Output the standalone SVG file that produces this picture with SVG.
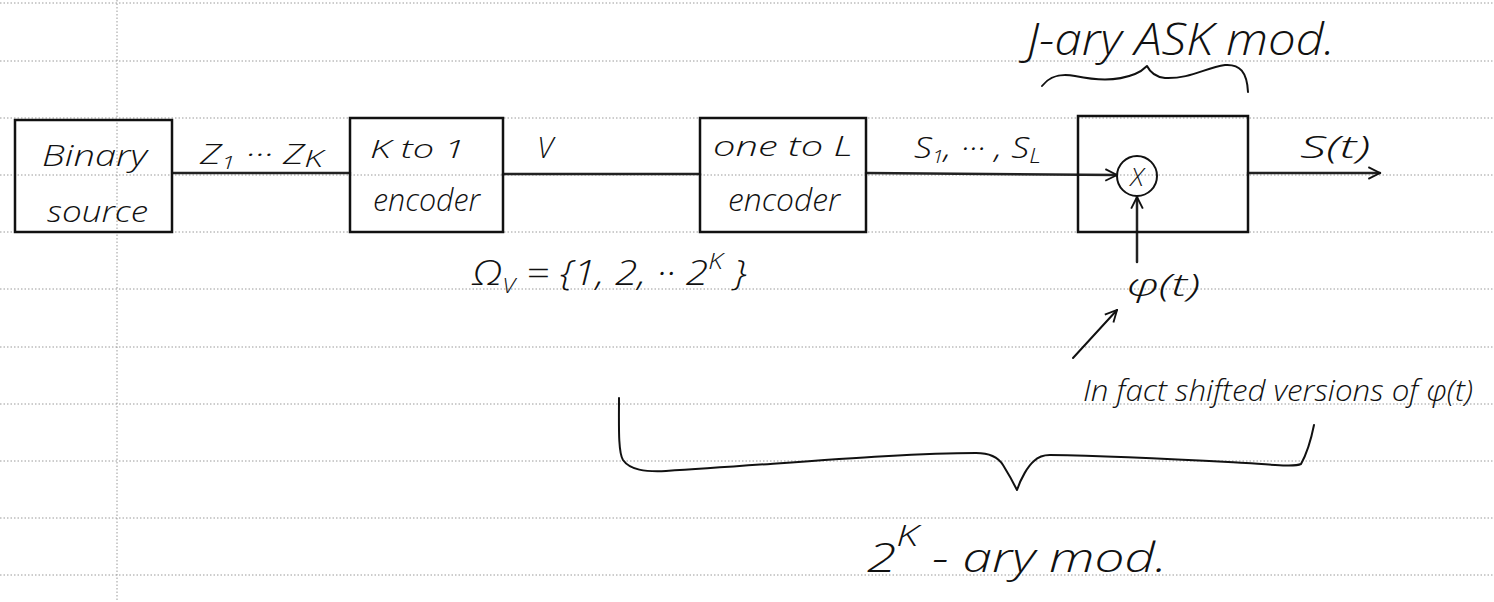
<svg xmlns="http://www.w3.org/2000/svg" width="1494" height="602" viewBox="0 0 1494 602">
<defs>
<style>
.rule{stroke:#9a9a9a;stroke-width:1;stroke-dasharray:1.5 2;fill:none}
.box{fill:none;stroke:#111;stroke-width:2.5}
.wire{fill:none;stroke:#222;stroke-width:2.5;stroke-linecap:round}
.pen{fill:none;stroke:#111;stroke-width:2;stroke-linecap:round;stroke-linejoin:round}
.hw{font-family:"Open Sans","DejaVu Sans",sans-serif;font-weight:300;font-style:italic;fill:#111}
</style>
<marker id="arr" viewBox="0 0 12 12" refX="11" refY="6" markerWidth="14" markerHeight="14" markerUnits="userSpaceOnUse" orient="auto">
<path d="M1,1 L11,6 L1,11" fill="none" stroke="#111" stroke-width="1.6"/>
</marker>
</defs>
<rect width="1494" height="602" fill="#fff"/>
<g id="paper">
<line class="rule" x1="0" y1="3" x2="1494" y2="3"/>
<line class="rule" x1="0" y1="61" x2="1494" y2="61"/>
<line class="rule" x1="0" y1="118" x2="1494" y2="118"/>
<line class="rule" x1="0" y1="175" x2="1494" y2="175"/>
<line class="rule" x1="0" y1="232" x2="1494" y2="232"/>
<line class="rule" x1="0" y1="289" x2="1494" y2="289"/>
<line class="rule" x1="0" y1="347" x2="1494" y2="347"/>
<line class="rule" x1="0" y1="404" x2="1494" y2="404"/>
<line class="rule" x1="0" y1="461" x2="1494" y2="461"/>
<line class="rule" x1="0" y1="518" x2="1494" y2="518"/>
<line class="rule" x1="0" y1="575" x2="1494" y2="575"/>
<line class="rule" x1="117" y1="0" x2="117" y2="602"/>
</g>
<g id="connectors">
<line class="wire" x1="173" y1="173" x2="350" y2="173"/>
<line class="wire" x1="503" y1="174" x2="700" y2="174"/>
<path class="wire" d="M866,173 L1117,175" marker-end="url(#arr)"/>
<path class="wire" d="M1248,173 L1380,173" marker-end="url(#arr)"/>
<path class="wire" d="M1137,262 L1137,197" marker-end="url(#arr)"/>
<path class="pen" d="M1073,358 L1117,310" marker-end="url(#arr)"/>
</g>
<g id="binary-source">
<rect class="box" x="15" y="120" width="157" height="112"/>
<text class="hw" x="42" y="166" font-size="30" textLength="105" lengthAdjust="spacingAndGlyphs">Binary</text>
<text class="hw" x="47" y="222" font-size="30" textLength="101" lengthAdjust="spacingAndGlyphs">source</text>
</g>
<g id="label-z">
<text class="hw" x="200" y="164" font-size="28" textLength="123" lengthAdjust="spacingAndGlyphs">Z<tspan font-size="18" dy="5">1</tspan><tspan dy="-5"> ··· Z</tspan><tspan font-size="24" dy="3">K</tspan></text>
</g>
<g id="k-to-1-encoder">
<rect class="box" x="350" y="118" width="153" height="114"/>
<text class="hw" x="370" y="158" font-size="26" textLength="95" lengthAdjust="spacingAndGlyphs">K to 1</text>
<text class="hw" x="373" y="211" font-size="32" textLength="107" lengthAdjust="spacingAndGlyphs">encoder</text>
</g>
<g id="label-v">
<text class="hw" x="537" y="158" font-size="30">V</text>
</g>
<g id="one-to-l-encoder">
<rect class="box" x="700" y="118" width="166" height="114"/>
<text class="hw" x="713" y="156" font-size="28" textLength="140" lengthAdjust="spacingAndGlyphs">one to L</text>
<text class="hw" x="728" y="211" font-size="32" textLength="112" lengthAdjust="spacingAndGlyphs">encoder</text>
</g>
<g id="label-s">
<text class="hw" x="914" y="158" font-size="30" textLength="127" lengthAdjust="spacingAndGlyphs">S<tspan font-size="18" dy="5">1</tspan><tspan dy="-5">, ··· , S</tspan><tspan font-size="20" dy="5">L</tspan></text>
</g>
<g id="ask-modulator">
<rect class="box" x="1078" y="116" width="170" height="116"/>
<circle class="pen" cx="1137" cy="176" r="20"/>
<text class="hw" x="1137" y="186" font-size="26" text-anchor="middle">X</text>
</g>
<g id="label-st">
<text class="hw" x="1300" y="158" font-size="32" textLength="70" lengthAdjust="spacingAndGlyphs">S(t)</text>
</g>
<g id="label-jary">
<text class="hw" x="1027" y="55" font-size="44" textLength="308" lengthAdjust="spacingAndGlyphs">J-ary ASK mod.</text>
<path class="pen" d="M1042,86 C1050,76 1060,73 1075,76 C1095,80 1115,82 1135,74 C1140,72 1144,69 1147,66 C1150,72 1155,77 1165,78 C1190,79 1205,68 1225,65 C1240,64 1247,72 1248,92"/>
</g>
<g id="label-omega">
<text class="hw" x="472" y="285" font-size="34" textLength="275" lengthAdjust="spacingAndGlyphs">Ω<tspan font-size="20" dy="8">V</tspan><tspan dy="-8"> = {1, 2, ·· 2</tspan><tspan font-size="22" dy="-16">K</tspan><tspan dy="16"> }</tspan></text>
</g>
<g id="label-phi">
<text class="hw" x="1127" y="296" font-size="32" textLength="73" lengthAdjust="spacingAndGlyphs">φ(t)</text>
</g>
<g id="label-shifted">
<text class="hw" x="1083" y="401" font-size="30" textLength="390" lengthAdjust="spacingAndGlyphs">In fact shifted versions of φ(t)</text>
</g>
<g id="label-2k">
<path class="pen" d="M619,398 C619,425 618,452 623,460 C630,470 645,472 666,471 C780,464 900,453 976,453 C990,453 998,457 1003,465 C1008,473 1013,482 1017,490 C1021,478 1028,466 1034,461 C1038,457 1042,455 1050,455 C1120,456 1190,460 1246,463 C1275,465 1295,467 1301,464 C1306,455 1311,440 1314,425"/>
<text class="hw" x="867" y="572" font-size="40" textLength="300" lengthAdjust="spacingAndGlyphs">2<tspan font-size="30" dy="-26">K</tspan><tspan dy="26"> - ary  mod.</tspan></text>
</g>
</svg>
